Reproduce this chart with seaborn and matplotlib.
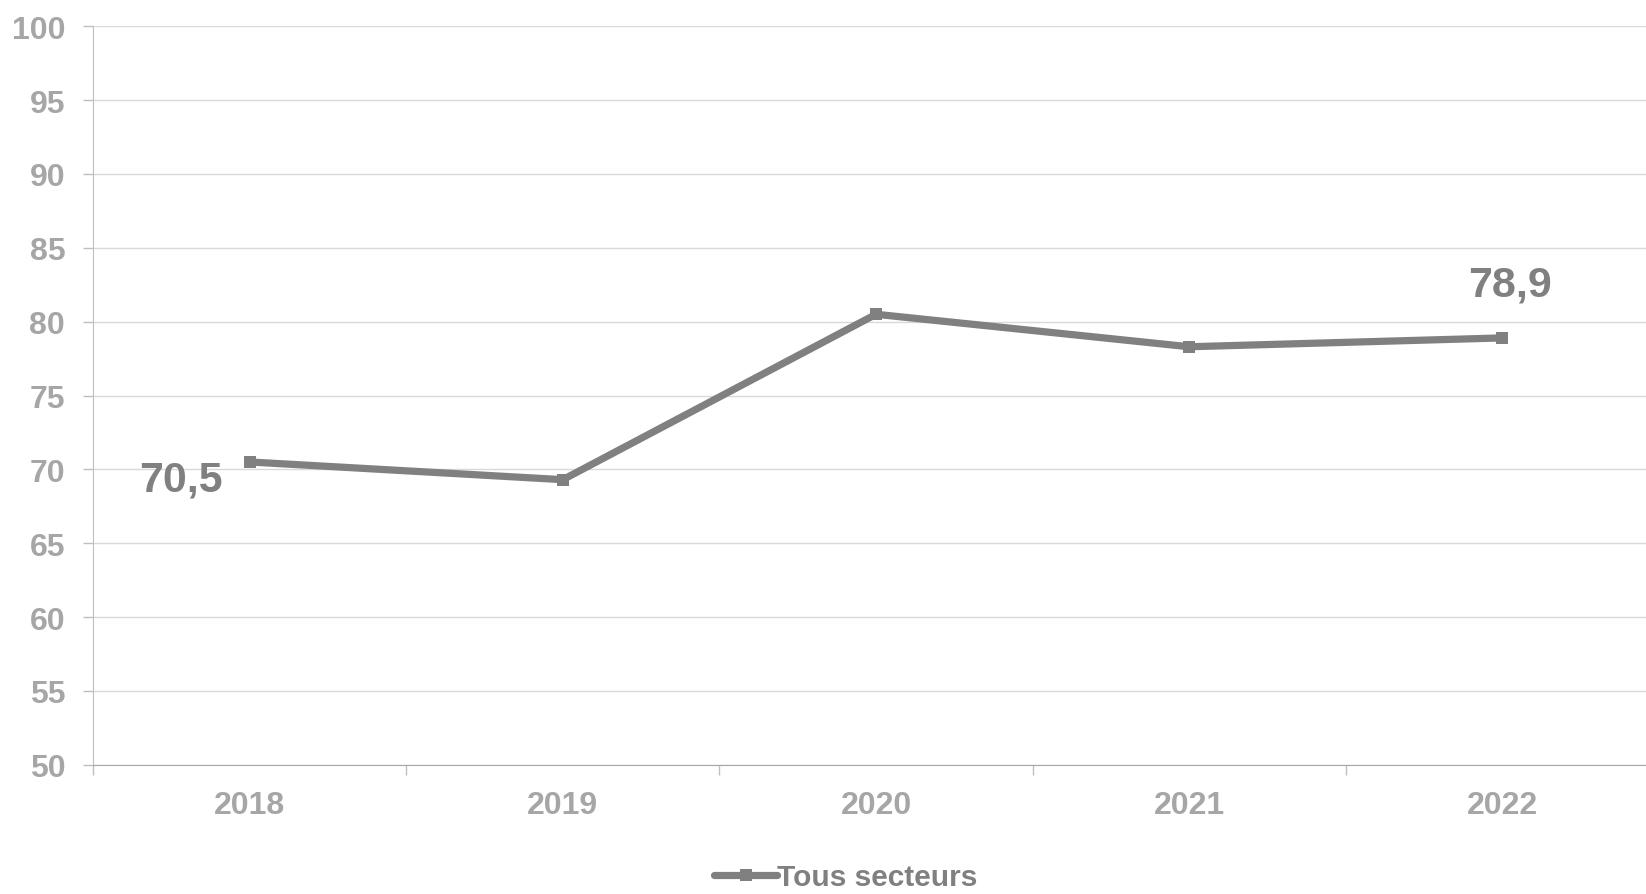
import pandas as pd
import seaborn as sns
import matplotlib.pyplot as plt

# === Data ===
years = ["2018", "2019", "2020", "2021", "2022"]
values = [70.5, 69.3, 80.5, 78.3, 78.9]
series_name = "Tous secteurs"
yticks = [50, 55, 60, 65, 70, 75, 80, 85, 90, 95, 100]

df = pd.DataFrame({"Année": years, "Valeur": values, "Série": series_name})

# === Style ===
sns.set_style("white")
plt.rcParams["font.family"] = ["Liberation Sans", "DejaVu Sans"]
plt.rcParams["font.weight"] = "bold"

line_col = "#808080"
tick_col = "#A6A6A6"
grid_col = "#D9D9D9"

fig = plt.figure(figsize=(16.46, 8.95), dpi=100)
ax = fig.add_axes([93 / 1646, 129.3 / 895, 1566 / 1646, 738.4 / 895])

sns.lineplot(data=df, x="Année", y="Valeur", hue="Série", palette=[line_col],
             marker="s", markersize=9, markeredgewidth=0, linewidth=5.2,
             sort=False, ax=ax)

ax.set_ylim(50, 100)
ax.set_xlim(-0.5, 4.5)
ax.set_yticks(yticks)
ax.set_yticklabels([str(v) for v in yticks])
ax.set_xticks(range(len(years)))
ax.set_xticklabels(years)
ax.set_xticks([i - 0.5 for i in range(len(years) + 1)], minor=True)

ax.tick_params(axis="y", labelsize=23, labelcolor=tick_col, length=7,
               width=1, color="#BFBFBF", pad=13, direction="out", left=True)
ax.tick_params(axis="x", which="major", labelsize=23, labelcolor=tick_col,
               length=0, pad=18)
ax.tick_params(axis="x", which="minor", length=7, width=1, color="#BFBFBF",
               direction="out", bottom=True)
for lab in ax.get_xticklabels() + ax.get_yticklabels():
    lab.set_fontweight("bold")

ax.grid(True, axis="y", color=grid_col, linewidth=1)
ax.set_axisbelow(True)
for side in ["top", "right"]:
    ax.spines[side].set_visible(False)
ax.spines["left"].set_color("#BFBFBF")
ax.spines["bottom"].set_color("#A6A6A6")
ax.set_xlabel("")
ax.set_ylabel("")

# data labels for first and last points
ax.annotate("70,5", (0, values[0]), xytext=(-69, -18), textcoords="offset pixels",
            ha="center", va="center", fontsize=31, fontweight="bold", color=line_col)
ax.annotate("78,9", (4, values[4]), xytext=(8, 53), textcoords="offset pixels",
            ha="center", va="center", fontsize=31, fontweight="bold", color=line_col)

ax.get_legend().remove()
handles, labels = ax.get_legend_handles_labels()
leg = fig.legend(handles, labels, loc="lower center", bbox_to_anchor=(846 / 1646, -0.027),
                 frameon=False, handlelength=2.1, handletextpad=0.0,
                 labelcolor=line_col, prop={"weight": "bold", "size": 21.5})

plt.savefig("out.png", dpi=100)
